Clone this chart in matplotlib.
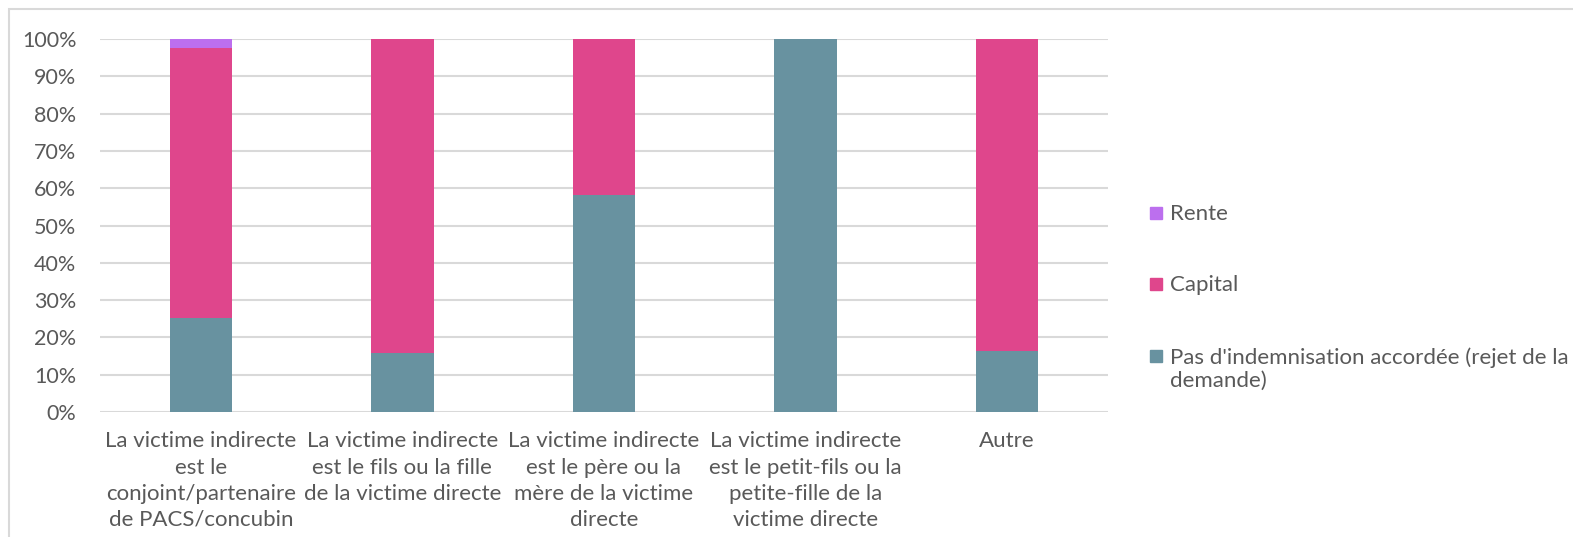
import matplotlib.pyplot as plt
import matplotlib.patches as patches
import numpy as np

categories = [
    "La victime indirecte\nest le\nconjoint/partenaire\nde PACS/concubin",
    "La victime indirecte\nest le fils ou la fille\nde la victime directe",
    "La victime indirecte\nest le père ou la\nmère de la victime\ndirecte",
    "La victime indirecte\nest le petit-fils ou la\npetite-fille de la\nvictime directe",
    "Autre",
]
pas_indemn = [25.3, 15.8, 58.2, 100.0, 16.3]
capital = [72.3, 84.2, 41.8, 0.0, 83.7]
rente = [2.4, 0.0, 0.0, 0.0, 0.0]

series_names = ["Pas d'indemnisation accordée (rejet de la\ndemande)", "Capital", "Rente"]
colors = ["#6892A0", "#DF468C", "#BC6FEE"]
y_ticks = np.arange(0, 101, 10)

plt.rcParams['font.family'] = ['Lato', 'DejaVu Sans']
text_color = "#595959"
W, H = 1573, 537

fig = plt.figure(figsize=(W / 100, H / 100), dpi=100)
ax = fig.add_axes([100 / W, 1 - 412 / H, 1008 / W, 373 / H])

# outer chart frame
fig.patches.append(patches.Rectangle((9 / W, -0.05), 1.1, 1 - 9 / H + 0.05,
                                     transform=fig.transFigure, fill=False,
                                     edgecolor="#D9D9D9", linewidth=1.5))

x = np.arange(len(categories))
bottom = np.zeros(len(categories))
for vals, col in zip([pas_indemn, capital, rente], colors):
    ax.bar(x, vals, width=0.31, bottom=bottom, color=col, zorder=3)
    bottom += np.array(vals)

ax.set_xlim(-0.5, len(categories) - 0.5)
ax.set_ylim(0, 100)
ax.set_yticks(y_ticks)
ax.set_yticklabels([f"{v}%" for v in y_ticks])
ax.set_xticks(x)
ax.set_xticklabels(categories, linespacing=1.38)
ax.tick_params(axis='both', length=0, colors=text_color)
ax.tick_params(axis='y', pad=17, labelsize=15.5)
ax.tick_params(axis='x', pad=14, labelsize=16)
ax.grid(axis='y', color="#D9D9D9", linewidth=1.5, zorder=0)
for s in ax.spines.values():
    s.set_visible(False)

# legend, top to bottom: Rente, Capital, Pas d'indemnisation
legend_y = [213, 284, 356]
for name, col, yy in zip(series_names[::-1], colors[::-1], legend_y):
    fy = 1 - yy / H
    fig.patches.append(patches.Rectangle((1150 / W, fy - 6 / H), 12 / W, 12 / H,
                                         transform=fig.transFigure, color=col))
    fig.text(1170 / W, fy + 9 / H, name, va='top', ha='left',
             fontsize=16, color=text_color, linespacing=1.2)

fig.savefig("out.png", dpi=100, facecolor="white")
